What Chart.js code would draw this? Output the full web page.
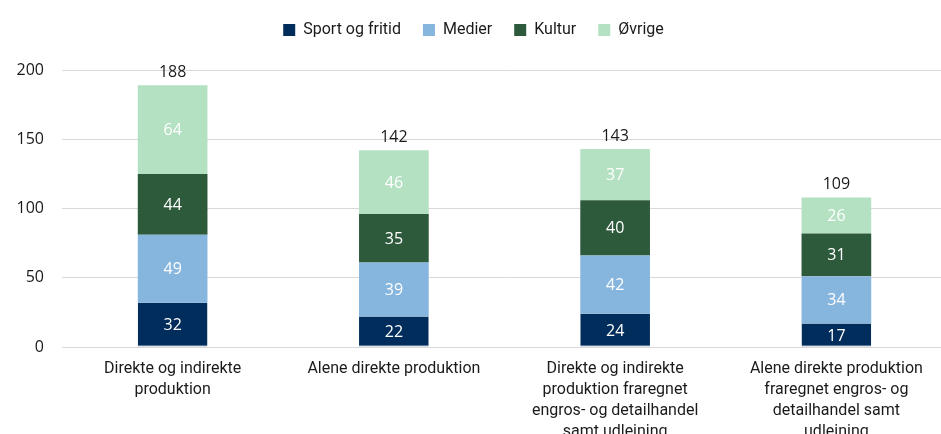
<!DOCTYPE html>
<html>
<head>
<meta charset="utf-8">
<script src="https://cdn.jsdelivr.net/npm/chart.js@4.4.1/dist/chart.umd.min.js"></script>
<style>
  html, body { margin: 0; padding: 0; background: #ffffff; overflow: hidden; }
  #wrap { width: 941px; height: 434px; position: relative; overflow: hidden; }
  #c { position: absolute; left: 0; top: 0; }
</style>
</head>
<body>
<div id="wrap"><canvas id="c" width="947" height="434"></canvas></div>
<script>
const categories = [
  ["Direkte og indirekte", "produktion"],
  ["Alene direkte produktion"],
  ["Direkte og indirekte", "produktion fraregnet", "engros- og detailhandel", "samt udleining"],
  ["Alene direkte produktion", "fraregnet engros- og", "detailhandel samt", "udleining"]
];
const seriesNames = ["Sport og fritid", "Medier", "Kultur", "Øvrige"];
const sportValues = [32, 22, 24, 17];
const medierValues = [49, 39, 42, 34];
const kulturValues = [44, 35, 40, 31];
const ovrigeValues = [64, 46, 37, 26];
const totals = [188, 142, 143, 109];
const yTicks = [0, 50, 100, 150, 200];

const colors = ["#002d5c", "#86b5de", "#2e5a3c", "#b5e1c3"];
const seriesValues = [sportValues, medierValues, kulturValues, ovrigeValues];

const labelFont = "Roboto";
const numFont = "Open Sans";

const legendSpace = {
  id: 'legendSpace',
  beforeInit(chart) {
    const lg = chart.legend;
    if (!lg) return;
    const orig = lg.fit;
    lg.fit = function () { orig.call(this); this.height += 22; };
  }
};

const valueLabels = {
  id: 'valueLabels',
  afterDatasetsDraw(chart) {
    const ctx = chart.ctx;
    ctx.save();
    ctx.textAlign = 'center';
    ctx.textBaseline = 'middle';
    ctx.font = '16px "' + numFont + '"';
    chart.data.datasets.forEach((ds, di) => {
      const meta = chart.getDatasetMeta(di);
      meta.data.forEach((bar, i) => {
        const v = ds.data[i];
        ctx.fillStyle = '#ffffff';
        ctx.fillText(String(v), bar.x, (bar.y + bar.base) / 2 + 1);
      });
    });
    const last = chart.getDatasetMeta(chart.data.datasets.length - 1);
    ctx.fillStyle = '#1a1a1a';
    ctx.textBaseline = 'bottom';
    last.data.forEach((bar, i) => {
      ctx.fillText(String(totals[i]), bar.x, bar.y - 5);
    });
    ctx.restore();
  }
};

new Chart(document.getElementById('c'), {
  type: 'bar',
  data: {
    labels: categories,
    datasets: seriesNames.map((name, i) => ({
      label: name,
      data: seriesValues[i],
      backgroundColor: colors[i],
      borderColor: i === 0 ? '#6f89a8' : colors[i],
      borderWidth: i === 0 ? { top: 0, left: 0, right: 0, bottom: 1 } : 0,
      borderSkipped: i === 0 ? false : 'start',
      barPercentage: 0.315,
      categoryPercentage: 1.0
    }))
  },
  options: {
    responsive: false,
    animation: false,
    devicePixelRatio: 1,
    layout: { padding: { top: 0, left: 0, right: 0, bottom: 0 } },
    plugins: {
      legend: {
        position: 'top',
        labels: {
          boxWidth: 12,
          boxHeight: 12,
          padding: 22,
          color: '#1a1a1a',
          font: { family: labelFont, size: 16 },
          generateLabels(chart) {
            return chart.data.datasets.map((ds, i) => ({
              text: ds.label,
              fillStyle: colors[i],
              strokeStyle: colors[i],
              lineWidth: 0,
              fontColor: '#1a1a1a',
              hidden: false,
              datasetIndex: i
            }));
          }
        }
      },
      tooltip: { enabled: false }
    },
    scales: {
      x: {
        stacked: true,
        grid: { display: false },
        border: { display: false },
        ticks: {
          autoSkip: false,
          maxRotation: 0,
          minRotation: 0,
          padding: 4,
          color: '#1a1a1a',
          font: { family: labelFont, size: 16, lineHeight: 1.3 }
        },
        afterFit(s) { s.height = 87; s.paddingLeft = 0; s.paddingRight = 0; }
      },
      y: {
        stacked: true,
        min: 0,
        max: 200,
        afterBuildTicks(s) { s.ticks = yTicks.map(v => ({ value: v })); },
        grid: { color: '#d9d9d9', lineWidth: 1, drawTicks: false },
        border: { display: false },
        ticks: {
          padding: 18,
          color: '#1a1a1a',
          font: { family: numFont, size: 16 }
        },
        afterFit(s) { s.width = 62; s.paddingTop = 0; s.paddingBottom = 0; }
      }
    }
  },
  plugins: [legendSpace, valueLabels]
});
</script>
</body>
</html>
